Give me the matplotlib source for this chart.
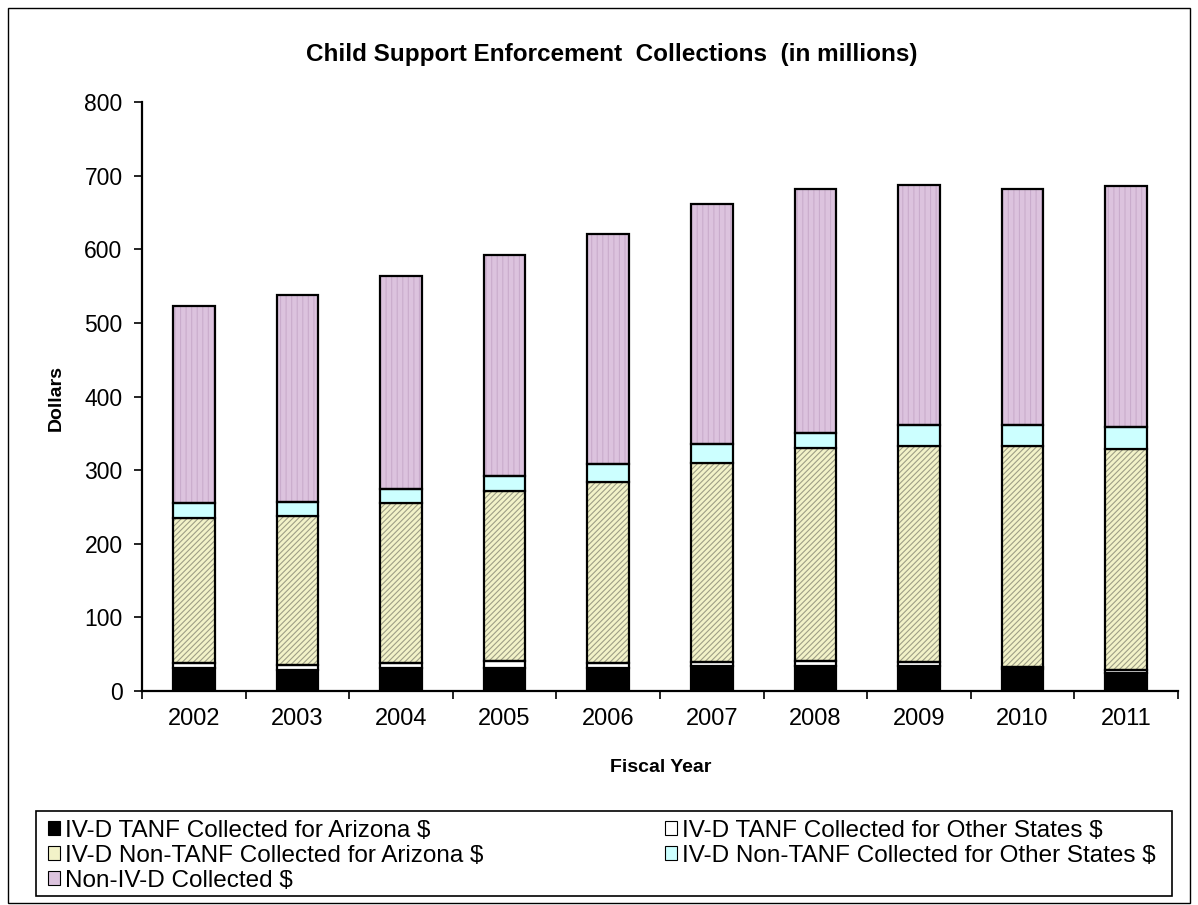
import matplotlib
matplotlib.use("Agg")
import matplotlib.pyplot as plt
from matplotlib.patches import Patch, Rectangle
import numpy as np

years = ["2002", "2003", "2004", "2005", "2006", "2007", "2008", "2009", "2010", "2011"]
tanf_az = [31, 29, 31, 31, 31, 34, 34, 34, 30, 25]
tanf_other = [7, 6, 7, 10, 7, 6, 7, 6, 3, 3]
nontanf_az = [197, 203, 218, 230, 246, 269, 289, 293, 300, 301]
nontanf_other = [20, 19, 18, 21, 24, 26, 21, 28, 28, 29]
non_ivd = [268, 281, 290, 300, 313, 326, 331, 326, 321, 328]

labels = ["IV-D TANF Collected for Arizona $",
          "IV-D TANF Collected for Other States $",
          "IV-D Non-TANF Collected for Arizona $",
          "IV-D Non-TANF Collected for Other States $",
          "Non-IV-D Collected $"]
faces = ["black", "white", "#F2F2C8", "#CCFFFF", "#DCC3DE"]
hatches = [None, None, "//////", None, "|||"]
hatch_cols = [None, None, "#9E9E86", None, "#C9ACCC"]

plt.rcParams["font.family"] = ["Liberation Sans", "DejaVu Sans"]
plt.rcParams["hatch.linewidth"] = 0.8

W, H = 1198, 905
fig = plt.figure(figsize=(W / 100, H / 100), dpi=100)
ax = fig.add_axes([142 / W, 1 - 691 / H, 1036 / W, 589 / H])

x = np.arange(len(years))
w = 0.4
series = [tanf_az, tanf_other, nontanf_az, nontanf_other, non_ivd]
bottom = np.zeros(len(years))
for vals, fc, h, hc in zip(series, faces, hatches, hatch_cols):
    vals = np.array(vals, dtype=float)
    if h:
        # hatch drawn in its own colour, black outline on top
        ax.bar(x, vals, w, bottom=bottom, color=fc, hatch=h, edgecolor=hc, linewidth=0, zorder=2)
        ax.bar(x, vals, w, bottom=bottom, fill=False, edgecolor="black", linewidth=1.6, zorder=3)
    else:
        ax.bar(x, vals, w, bottom=bottom, color=fc, edgecolor="black", linewidth=1.6, zorder=3)
    bottom += vals

ax.set_xlim(-0.5, len(years) - 0.5)
ax.set_ylim(0, 800)
ax.set_yticks(np.arange(0, 801, 100))
ax.set_xticks(np.arange(-0.5, len(years), 1))
ax.set_xticklabels([])
ax.set_xticks(x, minor=True)
ax.set_xticklabels(years, minor=True)
ax.tick_params(axis="x", which="major", direction="out", length=6, width=1.2)
ax.tick_params(axis="x", which="minor", length=0, labelsize=17, pad=12)
ax.tick_params(axis="y", direction="out", length=6, width=1.2, labelsize=16.5, pad=8)
for s in ["top", "right"]:
    ax.spines[s].set_visible(False)
for s in ["left", "bottom"]:
    ax.spines[s].set_linewidth(1.6)

fig.text(661 / W, 1 - 767 / H, "Fiscal Year", ha="center", va="center",
         fontsize=14, fontweight="bold")
fig.text(56 / W, 1 - 398 / H, "Dollars", ha="center", va="center", rotation=90,
         fontsize=14, fontweight="bold")
fig.text(612 / W, 1 - 55 / H, "Child Support Enforcement  Collections  (in millions)",
         ha="center", va="center", fontsize=17.5, fontweight="bold")

handles = [Patch(facecolor=f, edgecolor="black", linewidth=0.8) for f in faces]
cols = [([0, 2, 4], 48), ([1, 3], 665)]
for idx, xl in cols:
    fig.legend([handles[i] for i in idx], [labels[i] for i in idx],
               loc="upper left", bbox_to_anchor=(xl / W, 1 - 820 / H),
               frameon=False, borderpad=0, borderaxespad=0,
               fontsize=17.5, handlelength=0.5, handleheight=0.5,
               handletextpad=0.2, labelspacing=0.12)

fig.patches.append(Rectangle((36 / W, 1 - 896 / H), 1136 / W, 85 / H,
                             transform=fig.transFigure, fill=False,
                             edgecolor="black", linewidth=1.2))
fig.patches.append(Rectangle((8 / W, 1 - 903 / H), 1182 / W, 895 / H,
                             transform=fig.transFigure, fill=False,
                             edgecolor="black", linewidth=1))

fig.savefig("out.png", dpi=100)
